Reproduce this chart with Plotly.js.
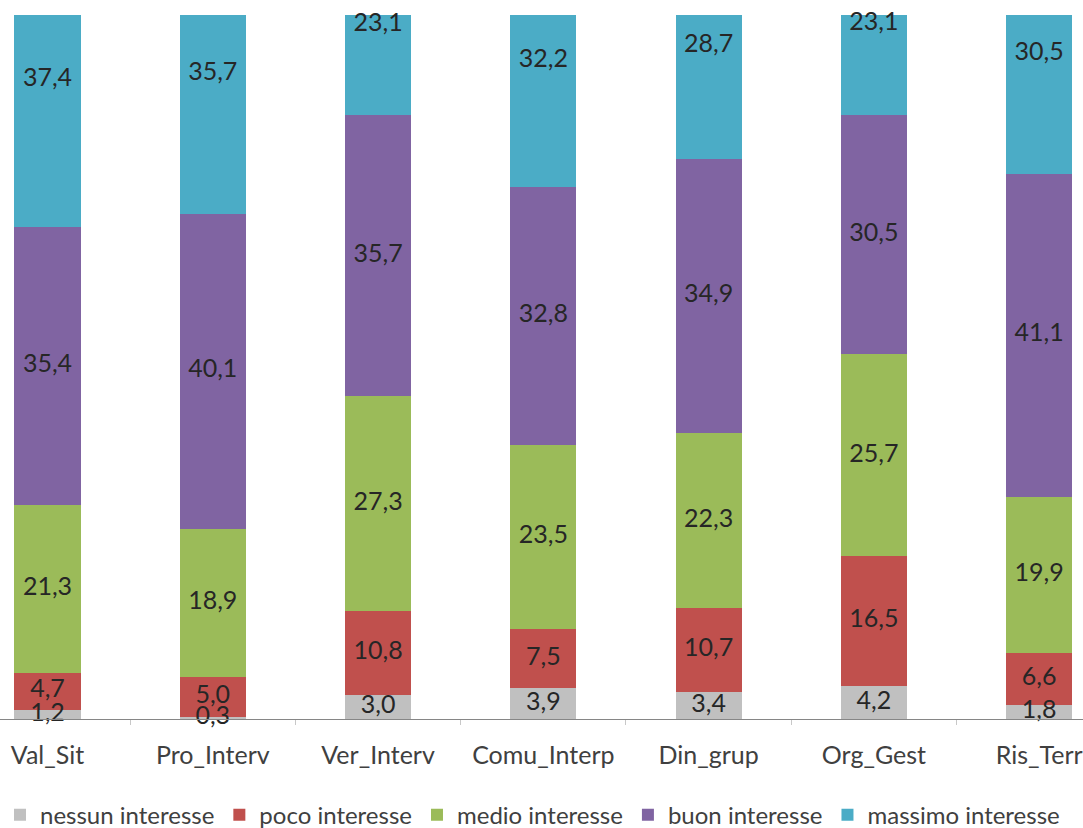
<!DOCTYPE html>
<html>
<head>
<meta charset="utf-8">
<script src="https://cdn.plot.ly/plotly-3.0.1.min.js"></script>
<style>
  html, body { margin: 0; padding: 0; background: #ffffff; }
  #chart { width: 1083px; height: 828px; }
</style>
</head>
<body>
<div id="chart"></div>
<script>
// Categories (areas of interest)
var categories = ["Val_Sit", "Pro_Interv", "Ver_Interv", "Comu_Interp", "Din_grup", "Org_Gest", "Ris_Terr"];

// Percentages per level of interest
var nessunInteresse  = [1.2, 0.3, 3.0, 3.9, 3.4, 4.2, 1.8];
var pocoInteresse    = [4.7, 5.0, 10.8, 7.5, 10.7, 16.5, 6.6];
var medioInteresse   = [21.3, 18.9, 27.3, 23.5, 22.3, 25.7, 19.9];
var buonInteresse    = [35.4, 40.1, 35.7, 32.8, 34.9, 30.5, 41.1];
var massimoInteresse = [37.4, 35.7, 23.1, 32.2, 28.7, 23.1, 30.5];

var seriesNames = ["nessun interesse", "poco interesse", "medio interesse", "buon interesse", "massimo interesse"];
var seriesValues = [nessunInteresse, pocoInteresse, medioInteresse, buonInteresse, massimoInteresse];
var seriesColors = ["#C0C0C0", "#C0504D", "#9BBB59", "#8064A2", "#4BACC6"];

var fontFamily = "Lato, 'Open Sans', sans-serif";

var traces = [];
seriesValues.forEach(function (vals, i) {
  traces.push({
    type: "bar",
    name: seriesNames[i],
    x: categories,
    y: vals,
    width: 0.4,
    marker: { color: seriesColors[i], line: { width: 0 } },
    hoverinfo: "x+y+name"
  });
});

// Value labels centred in each stacked segment
var lx = [], ly = [], lt = [];
categories.forEach(function (c, j) {
  var base = 0;
  seriesValues.forEach(function (vals) {
    var v = vals[j];
    lx.push(c);
    ly.push(base + v / 2);
    lt.push(v.toFixed(1).replace(".", ","));
    base += v;
  });
});
traces.push({
  type: "scatter",
  mode: "text",
  x: lx,
  y: ly,
  text: lt,
  textposition: "middle center",
  textfont: { family: fontFamily, size: 25, color: "#262626" },
  cliponaxis: false,
  showlegend: false,
  hoverinfo: "skip"
});

var layout = {
  width: 1083,
  height: 828,
  margin: { l: 0, r: 0, t: 15, b: 109, autoexpand: false },
  paper_bgcolor: "#ffffff",
  plot_bgcolor: "#ffffff",
  barmode: "stack",
  showlegend: true,
  font: { family: fontFamily, color: "#404040", size: 24 },
  xaxis: {
    type: "category",
    range: [-0.2874, 6.265],
    showline: true,
    linecolor: "#868686",
    linewidth: 1,
    ticks: "outside",
    tickson: "boundaries",
    ticklen: 5,
    tickcolor: "#c8c8c8",
    ticklabelstandoff: 14,
    showgrid: false,
    zeroline: false,
    automargin: false,
    tickfont: { family: fontFamily, size: 25, color: "#404040" }
  },
  yaxis: {
    range: [0, 89.57],
    showgrid: false,
    zeroline: false,
    showline: false,
    showticklabels: false,
    ticks: "",
    automargin: false
  },
  legend: {
    orientation: "h",
    traceorder: "normal",
    x: 0.0,
    xanchor: "left",
    y: -0.1364,
    yanchor: "middle",
    font: { family: fontFamily, size: 24, color: "#404040" },
    bgcolor: "rgba(0,0,0,0)"
  }
};

Plotly.newPlot("chart", traces, layout, { displayModeBar: false, staticPlot: true });
</script>
</body>
</html>
